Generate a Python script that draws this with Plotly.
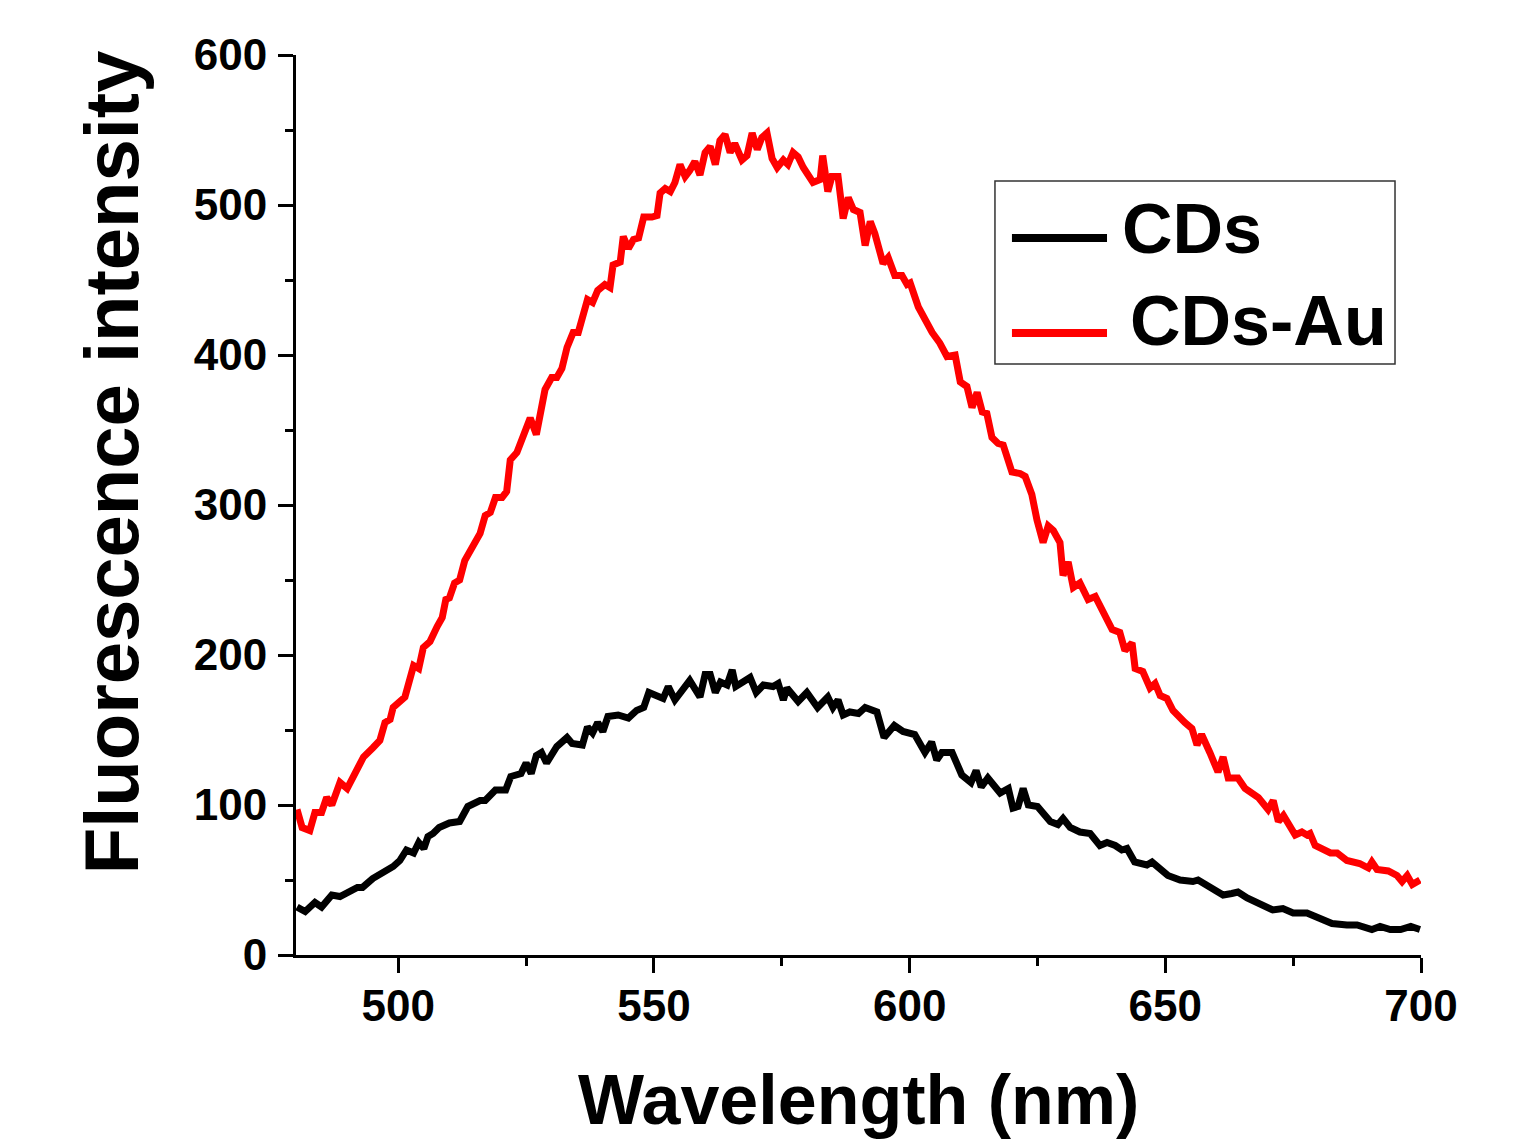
import plotly.graph_objects as go

# ---------------- data ----------------
cds_wl = [480.2, 481.8, 483.7, 485, 487, 488.6, 492, 493, 495, 497, 499, 500.3, 501.6, 503, 504, 505,
          505.8, 506.8, 508, 510, 512, 513.6, 516, 517, 519, 521, 522, 524, 525, 526, 527, 528, 529,
          531, 533, 534, 536, 537, 538, 539, 540, 541, 543, 545, 546.6, 548, 549, 551.8, 552.8,
          554.1, 557, 559, 560, 561, 562, 563, 564.3, 565.3, 566, 568.8, 570, 571.4, 573.3, 574.3,
          575.3, 576, 578.2, 579.9, 582, 584, 585, 586, 587, 588.3, 590, 591.3, 593.6, 595, 597,
          598.7, 601, 603, 604.3, 605.3, 606.3, 608.3, 610.2, 612, 613, 614, 615.3, 617.7, 619.3,
          620.2, 621.2, 622.2, 623.2, 625, 627.5, 629, 630, 631.4, 633.3, 635.3, 637.2, 638.6,
          640.2, 641.5, 642.5, 644, 646.4, 647.4, 650.5, 652.9, 655.4, 656.4, 658.7, 661.3, 663,
          664.2, 666, 668.5, 671, 673, 675, 677.7, 679.6, 682.6, 685.5, 687.5, 690.4, 692, 694,
          696, 698, 699.8]
cds_int = [32, 29, 35, 32, 40, 39, 45, 45, 51, 55, 59, 63, 70, 68, 75, 71,
           79, 81, 85, 88, 89, 99, 103, 103, 110, 110, 119, 121, 128, 121, 133, 135, 128,
           139, 145, 141, 140, 152, 148, 155, 149, 159, 160, 158, 163, 165, 175, 171, 179,
           170, 183, 172, 187, 187, 175, 182, 180, 190, 179, 185, 175, 180, 179, 181,
           170, 178, 169, 175, 165, 172, 165, 170, 160, 162, 161, 165, 162, 145, 153,
           149, 147, 135, 142, 130, 135, 135, 120, 115, 123, 112, 118, 108, 111,
           98, 99, 111, 100, 99, 89, 87, 91, 85, 82, 81, 73, 75,
           73, 70, 71, 62, 60, 62, 53, 50, 49, 50, 45, 40, 41,
           42, 38, 34, 30, 31, 28, 28, 25, 21, 20, 20, 17, 19, 17,
           17, 19, 17]

au_wl = [480.2, 481.2, 482.7, 483.7, 485, 486, 487, 488.6, 490, 492, 493.2, 495, 496.4, 497.4, 498.4,
         499, 501.3, 503, 504, 504.9, 506.2, 507.6, 508.6, 509.3, 510, 511, 512, 513, 514.4, 516,
         517, 518, 519, 520.3, 521.2, 521.9, 523.2, 524.2, 525.8, 527, 528.7, 530, 531, 532, 533,
         534.2, 535.2, 537, 538, 539, 540.4, 541.4, 542, 543.4, 544, 545, 546, 547, 548, 549.6,
         550.6, 551.2, 552.2, 553.2, 554.1, 555.1, 556.1, 557, 558, 559, 560, 561, 562, 562.9,
         563.9, 564.9, 565.8, 567.2, 568.2, 569.2, 570.2, 571.1, 572.1, 573.1, 574.1, 575.3,
         576.2, 577.2, 578.2, 579.2, 580.1, 581.1, 582.5, 583, 584, 584.8, 586, 587, 588, 589,
         590.3, 591.3, 592.3, 593.2, 594.8, 595.8, 597.1, 598.5, 599.5, 600.1, 601.7, 603, 604.4,
         605.9, 607.3, 608.9, 609.9, 611.2, 612.2, 613.2, 614.2, 615.1, 616.1, 617.3, 618.3, 620,
         621.6, 622.6, 623.9, 624.9, 626.1, 627.1, 628.1, 629.4, 630, 631, 632, 633.3, 634.9,
         636.3, 637.8, 639.6, 641.1, 642.1, 643.5, 644.1, 645.6, 647, 648, 649, 650.3, 651.5,
         653.8, 655.2, 656.2, 657.1, 658.7, 660.3, 661.3, 662.3, 664.2, 665.6, 668.2, 670.1,
         671.1, 672.1, 673.1, 675.4, 676.7, 677.7, 678.3, 679.3, 682.3, 683.6, 685.5, 688, 689.7,
         690.4, 691.4, 693.6, 695.3, 696.3, 697.3, 698.3, 699.8]
au_int = [97, 85, 83, 95, 95, 105, 100, 115, 111, 125, 132, 138, 143, 155, 157,
          165, 172, 193, 191, 205, 209, 219, 225, 237, 238, 248, 250, 263, 271, 281,
          293, 295, 305, 305, 309, 330, 335, 345, 358, 347, 377, 385, 385, 391, 405,
          415, 415, 437, 435, 443, 447, 445, 460, 462, 479, 471, 477, 478, 492, 492,
          493, 508, 511, 509, 515, 527, 519, 523, 529, 520, 535, 539, 527, 543,
          547, 535, 541, 530, 533, 548, 537, 545, 548, 531, 525, 530,
          527, 535, 532, 525, 521, 515, 517, 533, 509, 519, 519, 491, 505, 497,
          495, 473, 489, 481, 461, 465, 453, 453, 447, 448, 432, 423, 415,
          408, 399, 400, 382, 379, 365, 375, 362, 361, 345, 341, 340, 322,
          321, 319, 307, 290, 275, 286, 283, 275, 253, 262, 245, 248, 237,
          239, 228, 217, 215, 203, 208, 191, 189, 178, 181, 173, 171, 163,
          155, 151, 140, 147, 135, 122, 132, 118, 118, 111, 105, 97,
          103, 89, 93, 80, 82, 80, 81, 73, 68, 68, 63, 61, 58,
          62, 57, 56, 53, 49, 53, 47, 50]

series_names = ["CDs", "CDs-Au"]
series_colors = ["#000000", "#ff0000"]
x_title = "Wavelength (nm)"
y_title = "Fluorescence intensity"

FONT = "Liberation Sans, Arial, sans-serif"

fig = go.Figure()
for wl, val, name, col in [(cds_wl, cds_int, series_names[0], series_colors[0]),
                           (au_wl, au_int, series_names[1], series_colors[1])]:
    fig.add_trace(go.Scatter(x=wl, y=val, mode="lines", name=name,
                             line=dict(color=col, width=7), showlegend=False))

axis_common = dict(
    showline=True, linecolor="black", linewidth=3, mirror=False,
    ticks="outside", ticklen=15, tickwidth=3, tickcolor="black",
    showgrid=False, zeroline=False,
    tickfont=dict(family=FONT, size=44, color="black", weight="bold"),
)

fig.update_xaxes(range=[480, 700], tick0=0, dtick=50,
                 minor=dict(dtick=25, ticklen=8, tickwidth=3, tickcolor="black", ticks="outside"),
                 ticklabelstandoff=-5, **axis_common)
fig.update_yaxes(range=[0, 600], tick0=0, dtick=100,
                 minor=dict(dtick=50, ticklen=8, tickwidth=3, tickcolor="black", ticks="outside"),
                 ticklabelstandoff=2, **axis_common)

# axis titles
fig.add_annotation(text=x_title, xref="paper", yref="paper", x=0.5, y=-0.161,
                   xanchor="center", yanchor="middle", showarrow=False,
                   font=dict(family=FONT, size=70, color="black", weight="bold"))
fig.add_annotation(text=y_title, xref="paper", yref="paper", x=-0.164, y=0.547,
                   xanchor="center", yanchor="middle", showarrow=False, textangle=-90,
                   font=dict(family=FONT, size=76, color="black", weight="bold"))

# legend box (drawn manually to match the reference layout)
fig.add_shape(type="rect", xref="paper", yref="paper", x0=0.6213, x1=0.9769, y0=0.6567, y1=0.86,
              line=dict(color="#333333", width=1.5), fillcolor="white", layer="below")
legend_rows = [(0.7967, 0.8067, 0.7324), (0.6911, 0.7044, 0.7396)]
for (ly, ty, tx), name, col in zip(legend_rows, series_names, series_colors):
    fig.add_shape(type="line", xref="paper", yref="paper", x0=0.6364, x1=0.7209, y0=ly, y1=ly,
                  line=dict(color=col, width=8))
    fig.add_annotation(text=name, xref="paper", yref="paper", x=tx, y=ty,
                       xanchor="left", yanchor="middle", showarrow=False,
                       font=dict(family=FONT, size=70, color="black", weight="bold"))

# the page places the figure 8px from the top-left corner
fig.update_layout(
    width=1511, height=1134,
    margin=dict(l=288, r=98, t=47, b=187),
    paper_bgcolor="white", plot_bgcolor="white",
    showlegend=False,
)

fig.write_html("out.html")
